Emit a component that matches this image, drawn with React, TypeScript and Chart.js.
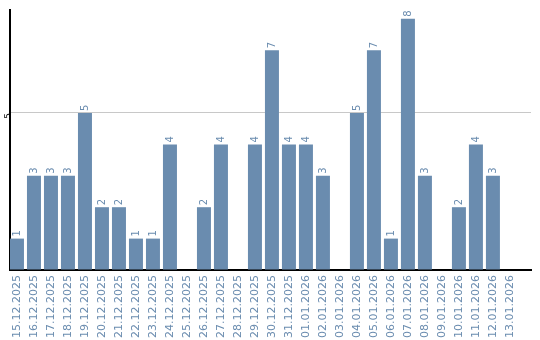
import React, { useEffect, useRef } from "react";
import { Chart, registerables } from "chart.js";

Chart.register(...registerables);

const categories = [
  "15.12.2025", "16.12.2025", "17.12.2025", "18.12.2025", "19.12.2025",
  "20.12.2025", "21.12.2025", "22.12.2025", "23.12.2025", "24.12.2025",
  "25.12.2025", "26.12.2025", "27.12.2025", "28.12.2025", "29.12.2025",
  "30.12.2025", "31.12.2025", "01.01.2026", "02.01.2026", "03.01.2026",
  "04.01.2026", "05.01.2026", "06.01.2026", "07.01.2026", "08.01.2026",
  "09.01.2026", "10.01.2026", "11.01.2026", "12.01.2026", "13.01.2026",
];
const values = [1, 3, 3, 3, 5, 2, 2, 1, 1, 4, 0, 2, 4, 0, 4, 7, 4, 4, 3, 0, 5, 7, 1, 8, 3, 0, 2, 4, 3, 0];
const yTicks = [0, 5];

const BAR = "#6a8caf";
const FONT = "DejaVu Sans";

const valueLabels = {
  id: "valueLabels",
  afterDatasetsDraw(chart: any) {
    const ctx = chart.ctx;
    const meta = chart.getDatasetMeta(0);
    ctx.save();
    ctx.fillStyle = BAR;
    ctx.font = `10px "${FONT}"`;
    ctx.textAlign = "left";
    ctx.textBaseline = "middle";
    meta.data.forEach((el: any, i: number) => {
      const v = values[i];
      if (!v) return;
      ctx.save();
      ctx.translate(el.x, el.y - 2);
      ctx.rotate(-Math.PI / 2);
      ctx.fillText(String(v), 0, 0);
      ctx.restore();
    });
    ctx.restore();
  },
};

export default function App() {
  const ref = useRef<HTMLCanvasElement>(null);
  useEffect(() => {
    const chart = new Chart(ref.current!, {
      type: "bar",
      data: {
        datasets: [
          {
            data: values.map((v, i) => ({ x: i, y: v })),
            backgroundColor: BAR,
            categoryPercentage: 1,
            barPercentage: 0.8235,
          },
        ],
      },
      options: {
        animation: false,
        responsive: false,
        layout: { padding: { top: 10, right: 9, left: 0, bottom: 0 } },
        plugins: { legend: { display: false }, tooltip: { enabled: false } },
        scales: {
          x: {
            type: "linear",
            offset: false,
            min: -0.41,
            max: 30.24,
            afterBuildTicks: (s: any) => {
              s.ticks = categories.map((_, i) => ({ value: i }));
            },
            afterFit: (s: any) => {
              s.height = 70;
              s.paddingLeft = 0;
              s.paddingRight = 0;
            },
            grid: { display: false, drawTicks: false, offset: false },
            border: { color: "#000", width: 2 },
            ticks: {
              color: BAR,
              font: { family: FONT, size: 11 },
              minRotation: 90,
              maxRotation: 90,
              padding: 5,
              autoSkip: false,
              callback: (v: any) => categories[v] ?? "",
            },
          },
          y: {
            min: 0,
            max: 8.28,
            afterBuildTicks: (s: any) => {
              s.ticks = yTicks.map((v) => ({ value: v }));
            },
            afterFit: (s: any) => {
              s.width = 10;
            },
            grid: { color: "#c8c8c8", drawTicks: false, lineWidth: 1 },
            border: { color: "#000", width: 2 },
            ticks: {
              color: "#000",
              font: { family: FONT, size: 9 },
              minRotation: 90,
              maxRotation: 90,
              padding: 1,
              callback: (v: any) => (v === 0 ? "" : String(v)),
            },
          },
        },
      },
      plugins: [valueLabels],
    });
    return () => chart.destroy();
  }, []);
  return (
    <div style={{ position: "fixed", left: 0, top: 0, width: 540, height: 340, background: "#fff" }}>
      <canvas ref={ref} width={540} height={340} style={{ display: "block", width: 540, height: 340 }} />
    </div>
  );
}
